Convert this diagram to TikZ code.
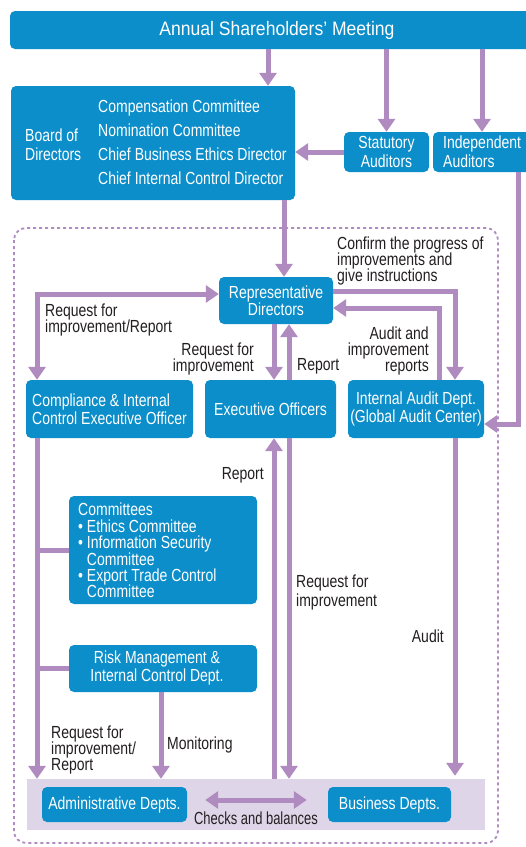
\documentclass[tikz,border=0pt]{standalone}
\usepackage{fontspec}
\setmainfont{Liberation Sans}[FakeStretch=0.80]
\newfontfamily\titlefont{Liberation Sans}[FakeStretch=0.9]
\newfontfamily\narrowfont{Liberation Sans}[FakeStretch=0.74]
\usetikzlibrary{arrows.meta}
\definecolor{boxblue}{HTML}{0B8EC9}
\definecolor{arrpurple}{HTML}{B08BC0}
\definecolor{bandlav}{HTML}{DED6E8}
\definecolor{labtxt}{HTML}{231F20}
\newcommand\fs[1]{\fontsize{17.5}{#1}\selectfont\lineskiplimit=-20pt\lineskip=0pt}
\tikzset{
  box/.style={fill=boxblue, rounded corners=5pt, inner sep=0pt, text=white, font=\fs{19}},
  boxtext/.style={inner sep=0pt, text=white},
  labeltext/.style={inner sep=0pt, text=labtxt},
  arr/.style={draw=arrpurple, line width=5pt, -{Triangle[width=17pt,length=13pt]}},
  arrtwo/.style={draw=arrpurple, line width=5pt, {Triangle[width=17pt,length=13pt]}-{Triangle[width=17pt,length=13pt]}},
  link/.style={draw=arrpurple, line width=5pt},
}
\begin{document}
\begin{tikzpicture}[x=1pt,y=-1pt]
\useasboundingbox (0,0) rectangle (526,847);
\clip (0,0) rectangle (526,847);
\fill[white] (0,0) rectangle (526,847);

% dashed frame
\draw[arrpurple, line width=1.8pt, dash pattern=on 3pt off 3pt, rounded corners=12pt] (14,228) rectangle (498,843);

% lavender band
\node[fill=bandlav, inner sep=0pt, minimum width=458pt, minimum height=51pt] (band) at (256,804.5) {};

% boxes
\node[box, minimum width=534pt, minimum height=38pt, font=\titlefont\fontsize{19.5}{20}\selectfont] (asm) at (277,30) {Annual Shareholders’ Meeting};
\node[box, minimum width=284pt, minimum height=114pt] (board) at (153,143) {};
\node[box, minimum width=85pt, minimum height=40pt, align=center] (stat) at (386.5,152) {Statutory\\Auditors};
\node[box, minimum width=112pt, minimum height=40pt] (indep) at (489,152) {};
\node[box, minimum width=114pt, minimum height=47pt, align=center, font=\fs{17}] (rep) at (276,300.5) {Representative\\Directors};
\node[box, minimum width=167pt, minimum height=58pt, align=left, font=\fs{18}] (comp) at (109.5,409) {Compliance \& Internal\\Control Executive Officer};
\node[box, minimum width=131pt, minimum height=58pt] (exec) at (270.5,409) {Executive Officers};
\node[box, minimum width=136pt, minimum height=58pt, align=center, font=\fs{18}] (iad) at (416,409) {Internal Audit Dept.\\(Global Audit Center)};
\node[box, minimum width=188pt, minimum height=108pt] (cmt) at (163,550) {};
\node[box, minimum width=188pt, minimum height=47pt] (risk) at (163,668.5) {};
\node[box, minimum width=145pt, minimum height=35pt] (admin) at (114.5,804.5) {Administrative Depts.};
\node[box, minimum width=123pt, minimum height=35pt] (bus) at (389.5,804.5) {Business Depts.};

% texts inside boxes
\node[boxtext, anchor=north west, align=left, font=\fs{19}] (boardname) at (25,129) {Board of\\Directors};
\node[boxtext, anchor=north west, align=left, font=\fs{24}] (boardlist) at (98,100) {Compensation Committee\\Nomination Committee\\Chief Business Ethics Director\\Chief Internal Control Director};
\node[boxtext, anchor=north west, align=left, font=\fs{19}] (indeptext) at (443,136) {Independent\\Auditors};
\node[boxtext, anchor=north west, align=left, font=\fs{16.4}] (cmttext) at (78,503) {Committees\\\textbullet\ Ethics Committee\\\textbullet\ Information Security\\\hphantom{\textbullet\ }Committee\\\textbullet\ Export Trade Control\\\hphantom{\textbullet\ }Committee};
\node[boxtext, align=center, font=\fs{18}] (risktext) at (157,668) {Risk Management \&\\Internal Control Dept.};

% connectors
\draw[arr] (asm.south -| 268,0) -- (board.north -| 268,0);
\draw[arr] (asm.south -| stat.north) -- (stat.north);
\draw[arr] (asm.south -| 482,0) -- (indep.north -| 482,0);
\draw[arr] (stat.west) -- (board.east |- stat.west);
\draw[arr] (board.south -| 284,0) -- (rep.north -| 284,0);
\draw[arr] (indep.south -| 518,0) |- (iad.east |- 0,424);
\draw[arrtwo] (comp.north -| 37,0) |- (rep.west |- 0,294);
\draw[arr] (rep.south -| 274,0) -- (exec.north -| 274,0);
\draw[arr] (exec.north -| 289,0) -- (rep.south -| 289,0);
\draw[arr] (rep.east |- 0,291) -| (iad.north -| 455,0);
\draw[arr] (iad.north -| 439,0) |- (rep.east |- 0,308);
\draw[arr] (comp.south -| 37,0) -- (band.north -| 37,0);
\draw[link] (cmt.west -| 37,0) -- (cmt.west);
\draw[link] (risk.west -| 37,0) -- (risk.west);
\draw[arr] (risk.south -| 161,0) -- (band.north -| 161,0);
\draw[arr] (band.north -| 274,0) -- (exec.south -| 274,0);
\draw[arr] (exec.south -| 289,0) -- (band.north -| 289,0);
\draw[arr] (iad.south -| 455,0) -- ([yshift=3pt]band.north -| 455,0);
\draw[arrtwo, shorten <=18pt, shorten >=21pt] (admin.east |- 0,800) -- (bus.west |- 0,800);

% labels
\node[labeltext, anchor=north west, align=left, font=\fs{16}] (l1) at (337,237) {Confirm the progress of\\improvements and\\give instructions};
\node[labeltext, anchor=north west, align=left, font=\fs{16}] (l2) at (45,304) {Request for\\improvement/Report};
\node[labeltext, anchor=north east, align=right, font=\fs{16}] (l3) at (254,343) {Request for\\improvement};
\node[labeltext, anchor=north west, font=\fs{16}] (l4) at (297,358) {Report};
\node[labeltext, anchor=north east, align=right, font=\fs{16}] (l5) at (429,327) {Audit and\\improvement\\reports};
\node[labeltext, anchor=north east, font=\fs{16}] (l6) at (264,467) {Report};
\node[labeltext, anchor=north west, align=left, font=\fs{19}] (l7) at (296,575) {Request for\\improvement};
\node[labeltext, anchor=north east, font=\fs{16}] (l8) at (444,630) {Audit};
\node[labeltext, anchor=north west, align=left, font=\fs{16}] (l9) at (51,726) {Request for\\improvement/\\Report};
\node[labeltext, anchor=north west, font=\fs{16}] (l10) at (167,737) {Monitoring};
\node[labeltext, anchor=north, font=\narrowfont\fs{16}] (l11) at (256,812) {Checks and balances};
\end{tikzpicture}
\end{document}
